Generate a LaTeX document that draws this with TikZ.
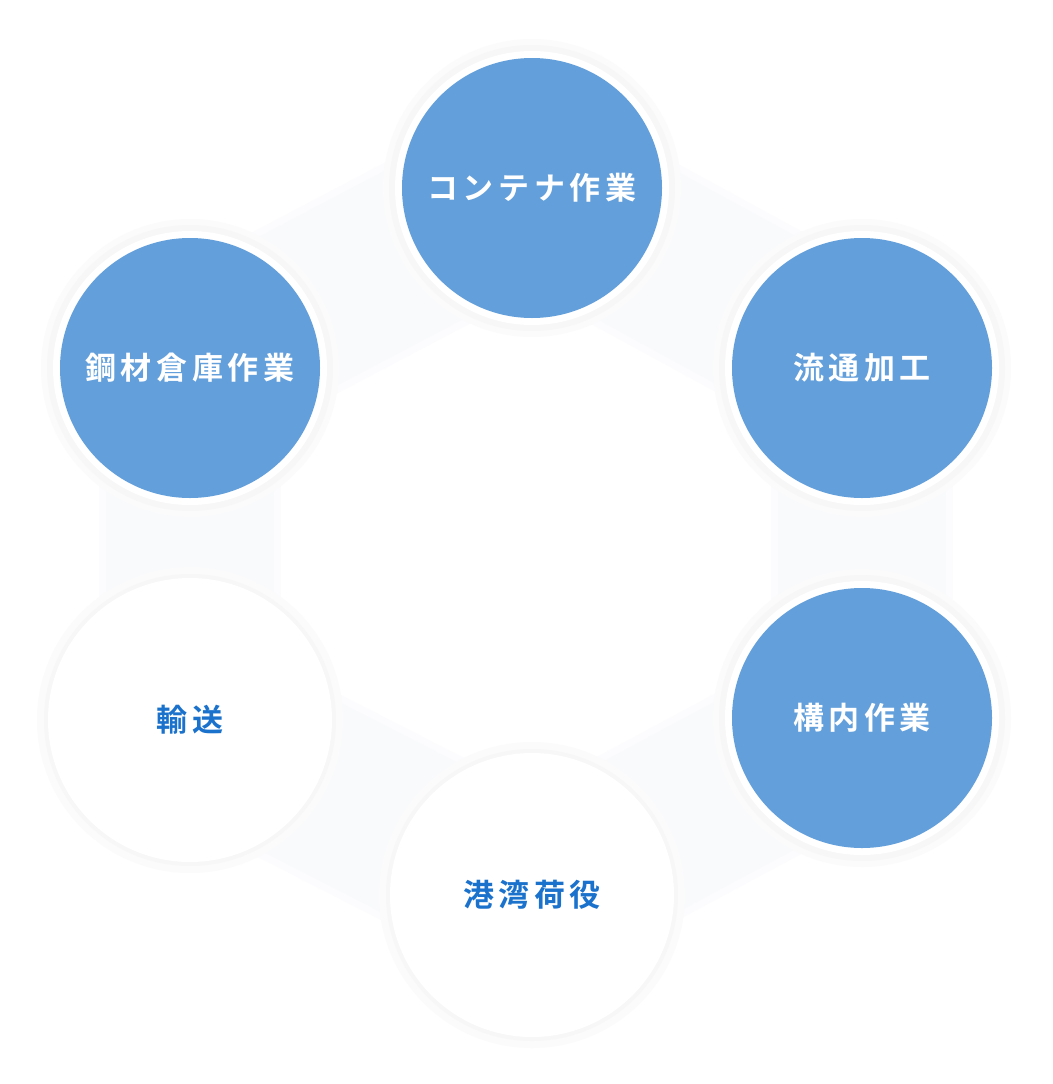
\documentclass[tikz,border=0pt]{standalone}
\usepackage{fontspec}
\newfontfamily\jpfont{Noto Sans CJK JP}[BoldFont={Noto Sans CJK JP Bold},LetterSpace=15]
\usetikzlibrary{backgrounds}
\definecolor{workblue}{HTML}{629FDB}
\definecolor{labelblue}{HTML}{1B72CC}
\definecolor{bandgray}{HTML}{F9FAFC}
\definecolor{bandedge}{HTML}{FCFCFE}
\definecolor{halogray}{HTML}{F7F7F8}
\definecolor{halolight}{HTML}{FBFBFC}
\begin{document}
\begin{tikzpicture}[x=1pt,y=-1pt,
    work/.style={circle, fill=workblue, minimum size=260pt, inner sep=0pt,
        text=white, font=\jpfont\bfseries\fontsize{31}{31}\selectfont,
        preaction={draw=halolight, line width=38pt},
        preaction={draw=halogray, line width=26pt},
        preaction={draw=white, line width=14pt}},
    field/.style={circle, fill=white, minimum size=284pt, inner sep=0pt,
        text=labelblue, font=\jpfont\bfseries\fontsize{31}{31}\selectfont,
        preaction={draw=halolight, line width=22pt},
        preaction={draw=halogray, line width=8pt}},
    band/.style={draw=bandgray, line width=168pt},
    bandsoft/.style={draw=bandedge, line width=182pt}]
\useasboundingbox (0,0) rectangle (1052,1084);
\node[work] (container) at (532,188) {コンテナ作業};
\node[work] (process) at (862,368) {流通加工};
\node[work] (yard) at (862,718) {構内作業};
\node[field] (port) at (532,895) {港湾荷役};
\node[field] (transport) at (190,720) {輸送};
\node[work] (steel) at (190,368) {鋼材倉庫作業};
\begin{scope}[on background layer]
\fill[white] (0,0) rectangle (1052,1084);
\foreach \a/\b in {container/process, process/yard, yard/port, port/transport, transport/steel, steel/container}
    \draw[bandsoft] (\a.center) -- (\b.center);
\foreach \a/\b in {container/process, process/yard, yard/port, port/transport, transport/steel, steel/container}
    \draw[band] (\a.center) -- (\b.center);
\end{scope}
\end{tikzpicture}
\end{document}
